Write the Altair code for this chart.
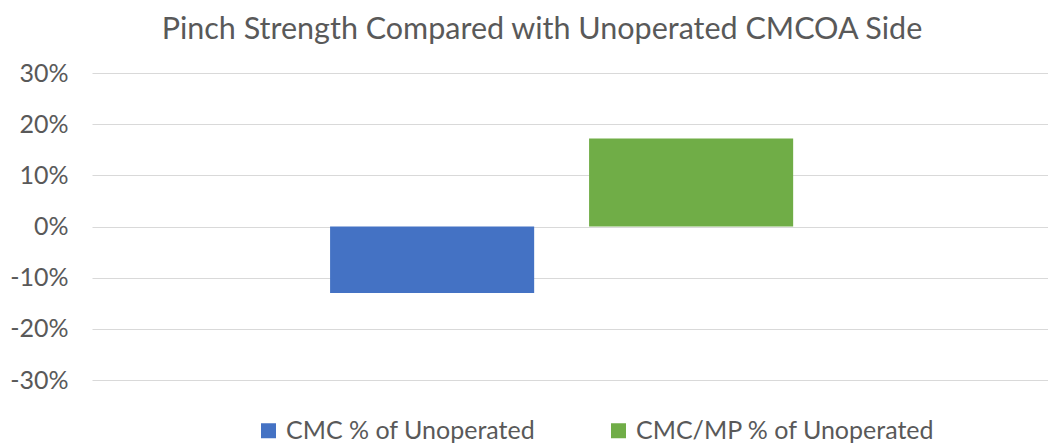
import altair as alt
import pandas as pd

series = ["CMC % of Unoperated", "CMC/MP % of Unoperated"]
values = [-0.13, 0.172]
colors = ["#4472C4", "#70AD47"]
y_ticks = [-0.3, -0.2, -0.1, 0.0, 0.1, 0.2, 0.3]

df = pd.DataFrame({"series": series, "value": values})

FONT = "Lato"
GREY = "#595959"

chart = alt.Chart(df).mark_bar().encode(
    x=alt.X("series:N", sort=series, axis=None,
            scale=alt.Scale(paddingInner=0.212, paddingOuter=0.9516, align=0.483)),
    y=alt.Y("value:Q", scale=alt.Scale(domain=[-0.3, 0.3], nice=False),
            axis=alt.Axis(values=y_ticks, title=None, ticks=False, domain=False,
                          labelPadding=24, labelFontSize=25, labelColor=GREY,
                          labelFont=FONT, gridColor="#D9D9D9", gridWidth=1,
                          labelExpr="(datum.value < 0 ? '-' : '') + format(abs(datum.value), '.0%')")),
    color=alt.Color("series:N", sort=series,
                    scale=alt.Scale(domain=series, range=colors),
                    legend=alt.Legend(title=None, orient="none", direction="horizontal",
                                      legendX=164, legendY=345, symbolType="square",
                                      symbolSize=225, symbolStrokeWidth=0,
                                      labelFontSize=25, labelFont=FONT, labelColor=GREY,
                                      columnPadding=70, labelOffset=5, labelLimit=400)),
).properties(
    width=956,
    height=307,
    title=alt.Title("Pinch Strength Compared with Unoperated CMCOA Side",
                    fontSize=30.5, font=FONT, color=GREY, fontWeight="normal",
                    anchor="middle", offset=16, dx=-28),
    autosize=alt.AutoSizeParams(type="none"),
    padding={"left": 84, "top": 65, "right": 0, "bottom": 63},
).configure_view(stroke=None)

chart.save("out.html", embed_options={"renderer": "svg", "actions": False})
